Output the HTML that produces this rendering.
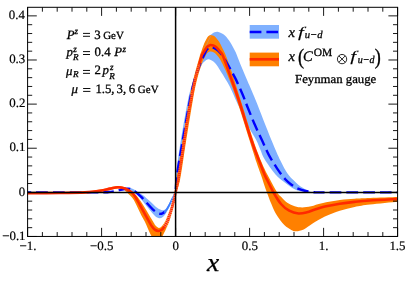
<!DOCTYPE html>
<html><head><meta charset="utf-8"><title>plot</title>
<style>
html,body{margin:0;padding:0;background:#fff;}
body{width:407px;height:289px;overflow:hidden;font-family:"Liberation Serif",serif;}
svg{display:block;}
</style></head><body>
<svg width="407" height="289" viewBox="0 0 407 289">
<defs><clipPath id="c"><rect x="27.60" y="7.30" width="370.00" height="229.15"/></clipPath></defs>
<rect width="407" height="289" fill="#fff"/>
<g clip-path="url(#c)">
<path d="M175.60 192.35 C175.63 190.79 175.67 186.39 175.80 183.00 C175.93 179.61 175.63 178.67 176.40 172.00 C177.17 165.33 178.47 155.00 180.40 143.00 C182.33 131.00 185.78 110.67 188.00 100.00 C190.22 89.33 191.82 85.67 193.70 79.00 C195.58 72.33 197.62 65.50 199.30 60.00 C200.98 54.50 202.35 49.75 203.80 46.00 C205.25 42.25 206.72 39.47 208.00 37.50 C209.28 35.53 210.42 35.07 211.50 34.20 C212.58 33.33 213.50 32.72 214.50 32.30 C215.50 31.88 216.42 31.60 217.50 31.70 C218.58 31.80 219.72 32.23 221.00 32.90 C222.28 33.57 223.63 34.12 225.20 35.70 C226.77 37.28 228.65 39.63 230.40 42.40 C232.15 45.17 234.05 48.70 235.70 52.30 C237.35 55.90 238.33 59.22 240.30 64.00 C242.27 68.78 244.95 75.00 247.50 81.00 C250.05 87.00 251.62 90.17 255.60 100.00 C259.58 109.83 267.25 129.87 271.40 140.00 C275.55 150.13 277.82 155.22 280.50 160.80 C283.18 166.38 285.23 170.17 287.50 173.50 C289.77 176.83 292.08 178.75 294.10 180.80 C296.12 182.85 297.78 184.40 299.60 185.80 C301.42 187.20 303.02 188.12 305.00 189.20 C306.98 190.28 310.42 191.78 311.50 192.30 L311.50 192.30 C310.08 192.18 305.72 192.07 303.00 191.60 C300.28 191.13 298.23 191.03 295.20 189.50 C292.17 187.97 288.08 184.92 284.80 182.40 C281.52 179.88 278.87 178.25 275.50 174.40 C272.13 170.55 267.12 163.40 264.60 159.30 C262.08 155.20 261.80 153.02 260.40 149.80 C259.00 146.58 258.27 143.97 256.20 140.00 C254.13 136.03 250.45 130.67 248.00 126.00 C245.55 121.33 243.42 116.08 241.50 112.00 C239.58 107.92 238.50 105.83 236.50 101.50 C234.50 97.17 232.07 90.93 229.50 86.00 C226.93 81.07 223.52 75.73 221.10 71.90 C218.68 68.07 217.05 65.12 215.00 63.00 C212.95 60.88 210.55 59.45 208.80 59.20 C207.05 58.95 205.77 60.37 204.50 61.50 C203.23 62.63 202.58 63.03 201.20 66.00 C199.82 68.97 197.83 73.63 196.20 79.30 C194.57 84.97 193.35 89.38 191.40 100.00 C189.45 110.62 186.47 130.33 184.50 143.00 C182.53 155.67 181.08 167.78 179.60 176.00 C178.12 184.22 176.27 189.62 175.60 192.35 Z" fill="#80b1ff"/>
<path d="M120.00 190.20 C121.33 189.80 125.83 188.00 128.00 187.80 C130.17 187.60 131.50 188.38 133.00 189.00 C134.50 189.62 135.33 190.45 137.00 191.50 C138.67 192.55 140.83 193.67 143.00 195.30 C145.17 196.93 147.83 199.35 150.00 201.30 C152.17 203.25 154.37 205.67 156.00 207.00 C157.63 208.33 158.72 208.77 159.80 209.30 C160.88 209.83 161.57 210.20 162.50 210.20 C163.43 210.20 164.43 210.17 165.40 209.30 C166.37 208.43 167.27 206.80 168.30 205.00 C169.33 203.20 170.57 200.42 171.60 198.50 C172.63 196.58 173.83 194.53 174.50 193.50 C175.17 192.47 175.42 192.54 175.60 192.35 L175.60 192.35 C175.23 193.38 174.23 196.44 173.40 198.50 C172.57 200.56 171.42 202.98 170.60 204.70 C169.78 206.42 169.37 207.20 168.50 208.80 C167.63 210.40 166.40 212.88 165.40 214.30 C164.40 215.72 163.53 216.63 162.50 217.30 C161.47 217.97 160.45 218.52 159.20 218.30 C157.95 218.08 156.53 217.33 155.00 216.00 C153.47 214.67 152.00 212.72 150.00 210.30 C148.00 207.88 145.17 204.10 143.00 201.50 C140.83 198.90 138.67 196.33 137.00 194.70 C135.33 193.07 134.50 192.55 133.00 191.70 C131.50 190.85 130.17 189.85 128.00 189.60 C125.83 189.35 121.33 190.10 120.00 190.20 Z" fill="#80b1ff"/>
<path d="M175.60 192.35 C175.77 190.29 175.52 188.22 176.60 180.00 C177.68 171.78 180.00 156.33 182.10 143.00 C184.20 129.67 187.32 110.62 189.20 100.00 C191.08 89.38 191.68 86.47 193.40 79.30 C195.12 72.13 198.15 61.72 199.50 57.00 C200.85 52.28 200.75 53.17 201.50 51.00 C202.25 48.83 203.08 46.17 204.00 44.00 C204.92 41.83 206.17 39.37 207.00 38.00 C207.83 36.63 208.38 36.30 209.00 35.80 C209.62 35.30 210.10 35.07 210.70 35.00 C211.30 34.93 211.92 35.15 212.60 35.40 C213.28 35.65 213.68 35.40 214.80 36.50 C215.92 37.60 218.05 40.08 219.30 42.00 C220.55 43.92 221.38 46.17 222.30 48.00 C223.22 49.83 224.08 51.42 224.80 53.00 C225.52 54.58 225.43 54.33 226.60 57.50 C227.77 60.67 229.43 64.83 231.80 72.00 C234.17 79.17 237.20 89.08 240.80 100.50 C244.40 111.92 249.93 130.20 253.40 140.50 C256.87 150.80 259.23 156.55 261.60 162.30 C263.97 168.05 264.98 169.95 267.60 175.00 C270.22 180.05 275.02 188.93 277.30 192.60 C279.58 196.27 279.63 195.32 281.30 197.00 C282.97 198.68 285.07 201.17 287.30 202.70 C289.53 204.23 292.22 205.42 294.70 206.20 C297.18 206.98 299.47 207.40 302.20 207.40 C304.93 207.40 307.80 206.90 311.10 206.20 C314.40 205.50 317.22 204.23 322.00 203.20 C326.78 202.17 334.37 200.75 339.80 200.00 C345.23 199.25 349.57 199.03 354.60 198.70 C359.63 198.37 362.83 198.27 370.00 198.00 C377.17 197.73 393.00 197.25 397.60 197.10 L397.60 201.80 C393.00 202.27 377.17 203.73 370.00 204.60 C362.83 205.47 359.63 205.97 354.60 207.00 C349.57 208.03 344.75 209.20 339.80 210.80 C334.85 212.40 329.43 214.48 324.90 216.60 C320.37 218.72 316.13 221.35 312.60 223.50 C309.07 225.65 306.43 228.20 303.70 229.50 C300.97 230.80 298.18 231.18 296.20 231.30 C294.22 231.42 293.78 231.25 291.80 230.20 C289.82 229.15 286.72 227.37 284.30 225.00 C281.88 222.63 279.20 218.88 277.30 216.00 C275.40 213.12 274.63 211.60 272.90 207.70 C271.17 203.80 268.88 198.05 266.90 192.60 C264.92 187.15 262.73 180.05 261.00 175.00 C259.27 169.95 258.40 168.05 256.50 162.30 C254.60 156.55 252.85 150.80 249.60 140.50 C246.35 130.20 240.68 111.43 237.00 100.50 C233.32 89.57 230.00 81.15 227.50 74.90 C225.00 68.65 223.50 65.98 222.00 63.00 C220.50 60.02 219.83 58.75 218.50 57.00 C217.17 55.25 215.42 53.42 214.00 52.50 C212.58 51.58 211.17 51.33 210.00 51.50 C208.83 51.67 207.83 52.58 207.00 53.50 C206.17 54.42 205.77 55.58 205.00 57.00 C204.23 58.42 203.72 58.28 202.40 62.00 C201.08 65.72 198.68 72.97 197.10 79.30 C195.52 85.63 194.78 89.38 192.90 100.00 C191.02 110.62 187.95 129.67 185.80 143.00 C183.65 156.33 181.70 171.78 180.00 180.00 C178.30 188.22 176.33 190.29 175.60 192.35 Z" fill="#ff8000"/>
<path d="M27.60 192.60 C33.00 192.57 50.43 192.58 60.00 192.40 C69.57 192.22 78.33 191.97 85.00 191.50 C91.67 191.03 95.83 190.28 100.00 189.60 C104.17 188.92 107.05 187.98 110.00 187.40 C112.95 186.82 115.37 186.17 117.70 186.10 C120.03 186.03 122.28 186.55 124.00 187.00 C125.72 187.45 126.50 187.88 128.00 188.80 C129.50 189.72 131.37 191.08 133.00 192.50 C134.63 193.92 136.12 195.22 137.80 197.30 C139.48 199.38 141.17 201.98 143.10 205.00 C145.03 208.02 147.72 212.60 149.40 215.40 C151.08 218.20 152.18 220.12 153.20 221.80 C154.22 223.48 154.57 224.48 155.50 225.50 C156.43 226.52 157.75 227.77 158.80 227.90 C159.85 228.03 160.78 227.32 161.80 226.30 C162.82 225.28 164.03 223.35 164.90 221.80 C165.77 220.25 166.05 219.38 167.00 217.00 C167.95 214.62 169.60 210.58 170.60 207.50 C171.60 204.42 172.17 201.03 173.00 198.50 C173.83 195.97 175.17 193.38 175.60 192.35 L175.60 192.35 C175.57 193.38 175.78 195.89 175.40 198.50 C175.02 201.11 174.33 204.12 173.30 208.00 C172.27 211.88 170.42 218.30 169.20 221.80 C167.98 225.30 167.13 226.57 166.00 229.00 C164.87 231.43 163.40 234.40 162.40 236.40 C161.40 238.40 161.07 240.23 160.00 241.00 C158.93 241.77 157.38 241.77 156.00 241.00 C154.62 240.23 152.95 238.23 151.70 236.40 C150.45 234.57 149.63 232.43 148.50 230.00 C147.37 227.57 146.08 224.23 144.90 221.80 C143.72 219.37 142.82 218.20 141.40 215.40 C139.98 212.60 137.83 207.82 136.40 205.00 C134.97 202.18 134.03 200.25 132.80 198.50 C131.57 196.75 130.13 195.67 129.00 194.50 C127.87 193.33 127.00 192.33 126.00 191.50 C125.00 190.67 124.38 189.98 123.00 189.50 C121.62 189.02 119.87 188.52 117.70 188.60 C115.53 188.68 112.95 189.43 110.00 190.00 C107.05 190.57 104.17 191.42 100.00 192.00 C95.83 192.58 91.67 193.15 85.00 193.50 C78.33 193.85 69.57 193.98 60.00 194.10 C50.43 194.22 33.00 194.18 27.60 194.20 Z" fill="#ff8000"/>
<path d="M211 35.3 L205 48" stroke="#bf987f" stroke-width="0.6" fill="none"/>
<path d="M27.60 192.35 C39.67 192.34 86.60 192.36 100.00 192.30 C113.40 192.24 105.67 192.17 108.00 192.00 C110.33 191.83 112.17 191.60 114.00 191.30 C115.83 191.00 117.42 190.55 119.00 190.20 C120.58 189.85 122.08 189.47 123.50 189.20 C124.92 188.93 126.25 188.60 127.50 188.60 C128.75 188.60 129.92 188.83 131.00 189.20 C132.08 189.57 133.13 190.28 134.00 190.80 C134.87 191.32 134.95 191.23 136.20 192.30 C137.45 193.37 139.65 195.33 141.50 197.20 C143.35 199.07 145.38 201.43 147.30 203.50 C149.22 205.57 151.38 208.08 153.00 209.60 C154.62 211.12 155.83 211.90 157.00 212.60 C158.17 213.30 159.08 213.67 160.00 213.80 C160.92 213.93 161.67 213.77 162.50 213.40 C163.33 213.03 164.58 211.90 165.00 211.60" fill="none" stroke="#0000ff" stroke-width="2.4" stroke-dasharray="11.7 5.0" stroke-dashoffset="7.98"/>
<path d="M164.30 212.60 C164.73 212.03 166.03 210.52 166.90 209.20 C167.77 207.88 168.57 206.48 169.50 204.70 C170.43 202.92 171.52 200.48 172.50 198.50 C173.48 196.52 174.92 193.75 175.40 192.80" fill="none" stroke="#3c7dff" stroke-width="1.8"/>
<path d="M175.60 192.35 C175.83 189.46 175.88 183.22 177.00 175.00 C178.12 166.78 180.13 155.50 182.30 143.00 C184.47 130.50 187.92 110.67 190.00 100.00 C192.08 89.33 193.00 85.33 194.80 79.00 C196.60 72.67 199.22 66.07 200.80 62.00 C202.38 57.93 203.35 56.60 204.30 54.60 C205.25 52.60 205.72 51.13 206.50 50.00 C207.28 48.87 208.17 48.28 209.00 47.80 C209.83 47.32 210.67 47.07 211.50 47.10 C212.33 47.13 212.92 47.42 214.00 48.00 C215.08 48.58 216.75 49.57 218.00 50.60 C219.25 51.63 220.42 52.80 221.50 54.20 C222.58 55.60 223.60 57.53 224.50 59.00 C225.40 60.47 225.13 59.85 226.90 63.00 C228.67 66.15 232.50 72.70 235.10 77.90 C237.70 83.10 240.50 89.52 242.50 94.20 C244.50 98.88 245.12 101.07 247.10 106.00 C249.08 110.93 251.92 118.10 254.40 123.80 C256.88 129.50 259.60 135.02 262.00 140.20 C264.40 145.38 266.30 150.22 268.80 154.90 C271.30 159.58 274.33 164.33 277.00 168.30 C279.67 172.27 282.38 175.97 284.80 178.70 C287.22 181.43 289.27 183.03 291.50 184.70 C293.73 186.37 295.85 187.65 298.20 188.70 C300.55 189.75 302.88 190.40 305.60 191.00 C308.32 191.60 311.48 192.08 314.50 192.30 C317.52 192.53 309.85 192.34 323.70 192.35 C337.55 192.36 385.28 192.35 397.60 192.35" fill="none" stroke="#0000ff" stroke-width="2.4" stroke-dasharray="11.7 5.0" stroke-dashoffset="13.22"/>
<path d="M27.60 193.20 C33.00 193.17 50.43 193.18 60.00 193.05 C69.57 192.92 78.33 192.78 85.00 192.40 C91.67 192.03 95.83 191.43 100.00 190.80 C104.17 190.17 107.05 189.18 110.00 188.60 C112.95 188.02 115.37 187.37 117.70 187.30 C120.03 187.23 122.28 187.75 124.00 188.20 C125.72 188.65 126.68 189.28 128.00 190.00 C129.32 190.72 130.63 191.28 131.90 192.50 C133.17 193.72 134.27 195.22 135.60 197.30 C136.93 199.38 138.23 201.98 139.90 205.00 C141.57 208.02 144.05 212.60 145.60 215.40 C147.15 218.20 148.15 219.98 149.20 221.80 C150.25 223.62 150.97 225.00 151.90 226.30 C152.83 227.60 153.68 228.82 154.80 229.60 C155.92 230.38 157.43 230.97 158.60 231.00 C159.77 231.03 160.85 230.50 161.80 229.80 C162.75 229.10 163.40 228.13 164.30 226.80 C165.20 225.47 166.42 223.43 167.20 221.80 C167.98 220.17 168.20 219.38 169.00 217.00 C169.80 214.62 171.12 210.67 172.00 207.50 C172.88 204.33 173.70 200.53 174.30 198.00 C174.90 195.47 174.95 195.35 175.60 192.35 C176.25 189.35 176.82 188.22 178.20 180.00 C179.58 171.78 182.37 153.00 183.90 143.00 C185.43 133.00 186.22 127.17 187.40 120.00 C188.58 112.83 189.70 106.78 191.00 100.00 C192.30 93.22 193.48 86.47 195.20 79.30 C196.92 72.13 200.07 61.22 201.30 57.00 C202.53 52.78 201.93 55.25 202.60 54.00 C203.27 52.75 204.48 50.73 205.30 49.50 C206.12 48.27 206.63 47.35 207.50 46.60 C208.37 45.85 209.50 45.17 210.50 45.00 C211.50 44.83 212.58 45.27 213.50 45.60 C214.42 45.93 214.92 46.02 216.00 47.00 C217.08 47.98 218.83 50.00 220.00 51.50 C221.17 53.00 221.35 52.10 223.00 56.00 C224.65 59.90 227.25 67.48 229.90 74.90 C232.55 82.32 235.30 89.57 238.90 100.50 C242.50 111.43 248.03 130.20 251.50 140.50 C254.97 150.80 257.50 156.55 259.70 162.30 C261.90 168.05 263.43 172.02 264.70 175.00 C265.97 177.98 265.82 177.27 267.30 180.20 C268.78 183.13 271.32 188.63 273.60 192.60 C275.88 196.57 278.40 200.98 281.00 204.00 C283.60 207.02 286.28 209.12 289.20 210.70 C292.12 212.28 295.53 213.23 298.50 213.50 C301.47 213.77 304.25 212.97 307.00 212.30 C309.75 211.63 312.02 210.45 315.00 209.50 C317.98 208.55 320.77 207.55 324.90 206.60 C329.03 205.65 334.85 204.58 339.80 203.80 C344.75 203.02 349.57 202.45 354.60 201.90 C359.63 201.35 362.83 200.98 370.00 200.50 C377.17 200.02 393.00 199.25 397.60 199.00" fill="none" stroke="#ff2a00" stroke-width="2.6" stroke-linejoin="round"/>
<path d="M164.60 226.40 C165.03 225.63 166.47 223.37 167.20 221.80 C167.93 220.23 168.20 219.38 169.00 217.00 C169.80 214.62 171.12 210.67 172.00 207.50 C172.88 204.33 173.73 200.38 174.30 198.00 C174.87 195.62 175.22 194.00 175.40 193.20" fill="none" stroke="#fff" stroke-opacity="0.5" stroke-width="5" stroke-dasharray="0.7 1.2"/>
<path d="M175.80 191.50 C176.20 189.58 176.85 188.08 178.20 180.00 C179.55 171.92 182.37 153.00 183.90 143.00 C185.43 133.00 186.22 127.17 187.40 120.00 C188.58 112.83 189.70 106.78 191.00 100.00 C192.30 93.22 193.82 85.30 195.20 79.30 C196.58 73.30 198.62 66.55 199.30 64.00" fill="none" stroke="#ffb060" stroke-opacity="0.55" stroke-width="2.8" stroke-dasharray="0.8 1.1"/>
</g>
<path d="M27.60 192.55 H397.60 M175.60 7.30 V236.45" stroke="#000" stroke-width="1.5" fill="none"/>
<rect x="27.60" y="7.30" width="370.00" height="229.15" fill="none" stroke="#000" stroke-width="1"/>
<path d="M27.60 236.45 V227.85 M27.60 7.30 V15.90 M42.40 236.45 V232.05 M42.40 7.30 V11.70 M57.20 236.45 V232.05 M57.20 7.30 V11.70 M72.00 236.45 V232.05 M72.00 7.30 V11.70 M86.80 236.45 V232.05 M86.80 7.30 V11.70 M101.60 236.45 V227.85 M101.60 7.30 V15.90 M116.40 236.45 V232.05 M116.40 7.30 V11.70 M131.20 236.45 V232.05 M131.20 7.30 V11.70 M146.00 236.45 V232.05 M146.00 7.30 V11.70 M160.80 236.45 V232.05 M160.80 7.30 V11.70 M175.60 236.45 V227.85 M175.60 7.30 V15.90 M190.40 236.45 V232.05 M190.40 7.30 V11.70 M205.20 236.45 V232.05 M205.20 7.30 V11.70 M220.00 236.45 V232.05 M220.00 7.30 V11.70 M234.80 236.45 V232.05 M234.80 7.30 V11.70 M249.60 236.45 V227.85 M249.60 7.30 V15.90 M264.40 236.45 V232.05 M264.40 7.30 V11.70 M279.20 236.45 V232.05 M279.20 7.30 V11.70 M294.00 236.45 V232.05 M294.00 7.30 V11.70 M308.80 236.45 V232.05 M308.80 7.30 V11.70 M323.60 236.45 V227.85 M323.60 7.30 V15.90 M338.40 236.45 V232.05 M338.40 7.30 V11.70 M353.20 236.45 V232.05 M353.20 7.30 V11.70 M368.00 236.45 V232.05 M368.00 7.30 V11.70 M382.80 236.45 V232.05 M382.80 7.30 V11.70 M397.60 236.45 V227.85 M397.60 7.30 V15.90 M27.60 236.47 H36.80 M397.60 236.47 H388.40 M27.60 227.65 H32.20 M397.60 227.65 H393.00 M27.60 218.82 H32.20 M397.60 218.82 H393.00 M27.60 210.00 H32.20 M397.60 210.00 H393.00 M27.60 201.17 H32.20 M397.60 201.17 H393.00 M27.60 192.35 H36.80 M397.60 192.35 H388.40 M27.60 183.53 H32.20 M397.60 183.53 H393.00 M27.60 174.70 H32.20 M397.60 174.70 H393.00 M27.60 165.88 H32.20 M397.60 165.88 H393.00 M27.60 157.05 H32.20 M397.60 157.05 H393.00 M27.60 148.23 H36.80 M397.60 148.23 H388.40 M27.60 139.41 H32.20 M397.60 139.41 H393.00 M27.60 130.58 H32.20 M397.60 130.58 H393.00 M27.60 121.76 H32.20 M397.60 121.76 H393.00 M27.60 112.93 H32.20 M397.60 112.93 H393.00 M27.60 104.11 H36.80 M397.60 104.11 H388.40 M27.60 95.29 H32.20 M397.60 95.29 H393.00 M27.60 86.46 H32.20 M397.60 86.46 H393.00 M27.60 77.64 H32.20 M397.60 77.64 H393.00 M27.60 68.81 H32.20 M397.60 68.81 H393.00 M27.60 59.99 H36.80 M397.60 59.99 H388.40 M27.60 51.17 H32.20 M397.60 51.17 H393.00 M27.60 42.34 H32.20 M397.60 42.34 H393.00 M27.60 33.52 H32.20 M397.60 33.52 H393.00 M27.60 24.69 H32.20 M397.60 24.69 H393.00 M27.60 15.87 H36.80 M397.60 15.87 H388.40" stroke="#000" stroke-width="0.9" fill="none"/>
<rect x="249.7" y="25.0" width="29.3" height="13.7" fill="#80b1ff"/>
<path d="M249.7 32.05 H279.0" stroke="#0000ff" stroke-width="2.5" stroke-dasharray="11.7 5.0"/>
<rect x="249.7" y="52.6" width="29.3" height="13.7" fill="#ff8000"/>
<path d="M249.7 59.3 H279.0" stroke="#ff2a00" stroke-width="2.7"/>
<g font-family="Liberation Serif, serif" fill="#000" stroke="#000" stroke-width="0.3" style="filter:grayscale(1);text-rendering:geometricPrecision">
<text x="8.86" y="19.07" font-size="12.90" stroke-width="0.20">0.4</text>
<text x="9.18" y="63.19" font-size="12.90" stroke-width="0.20">0.3</text>
<text x="9.36" y="107.31" font-size="12.90" stroke-width="0.20">0.2</text>
<text x="9.43" y="151.43" font-size="12.90" stroke-width="0.20">0.1</text>
<text x="18.86" y="195.55" font-size="12.90" stroke-width="0.20">0</text>
<text x="2.18" y="239.67" font-size="12.90" stroke-width="0.20">−0.1</text>
<text x="19.46" y="249.55" font-size="12.90" stroke-width="0.20">−1.</text>
<text x="90.05" y="249.55" font-size="12.90" stroke-width="0.20">−0.5</text>
<text x="172.58" y="249.55" font-size="12.90" stroke-width="0.20">0</text>
<text x="241.74" y="249.55" font-size="12.90" stroke-width="0.20">0.5</text>
<text x="318.83" y="249.55" font-size="12.90" stroke-width="0.20">1.</text>
<text x="389.43" y="249.55" font-size="12.90" stroke-width="0.20">1.5</text>
<text transform="translate(206.93 270.90) scale(1.0610 1)" font-size="26.00" font-style="italic" stroke-width="0.28">x</text>
<text x="66.86" y="38.70" font-size="12.80" font-style="italic">P</text>
<text x="74.62" y="33.80" font-size="9.10" font-style="italic">z</text>
<path d="M83.00 33.40 H90.00 M83.00 36.30 H90.00" stroke="#000" stroke-width="0.95" fill="none"/>
<text x="94.17" y="38.70" font-size="12.80">3</text>
<text transform="translate(103.16 38.70) scale(0.9957 1)" font-size="11.00" stroke-width="0.30">GeV</text>
<text x="66.45" y="56.20" font-size="12.80" font-style="italic">p</text>
<text x="73.17" y="51.60" font-size="9.10" font-style="italic">z</text>
<text x="73.11" y="60.40" font-size="9.10" font-style="italic">R</text>
<path d="M83.00 51.60 H90.00 M83.00 54.50 H90.00" stroke="#000" stroke-width="0.95" fill="none"/>
<text x="94.60" y="56.20" font-size="12.80">0.4</text>
<text x="114.16" y="56.20" font-size="12.80" font-style="italic">P</text>
<text x="122.62" y="51.60" font-size="9.10" font-style="italic">z</text>
<text x="65.90" y="74.80" font-size="12.80" font-style="italic">μ</text>
<text x="73.11" y="77.10" font-size="9.10" font-style="italic">R</text>
<path d="M83.00 70.45 H90.00 M83.00 73.35 H90.00" stroke="#000" stroke-width="0.95" fill="none"/>
<text x="94.44" y="74.40" font-size="12.80">2</text>
<text x="102.55" y="74.40" font-size="12.80" font-style="italic">p</text>
<text x="110.12" y="69.60" font-size="9.10" font-style="italic">z</text>
<text x="109.36" y="79.30" font-size="9.10" font-style="italic">R</text>
<text x="71.50" y="93.40" font-size="12.80" font-style="italic">μ</text>
<path d="M83.10 88.50 H90.40 M83.10 91.40 H90.40" stroke="#000" stroke-width="0.95" fill="none"/>
<text x="95.38" y="93.40" font-size="12.80">1.5,</text>
<text x="116.58" y="93.40" font-size="12.80">3,</text>
<text x="128.84" y="93.40" font-size="12.80">6</text>
<text transform="translate(137.86 93.40) scale(0.9957 1)" font-size="11.00" stroke-width="0.30">GeV</text>
<text x="288.59" y="36.60" font-size="14.60" font-style="italic">x</text>
<text transform="translate(298.03 36.60) scale(1.4382 1)" font-size="14.60" font-style="italic" stroke-width="0.10">f</text>
<text transform="translate(304.79 38.10) scale(1.0139 1)" font-size="10.50" font-style="italic" stroke-width="0.30">u−d</text>
<text x="288.59" y="61.40" font-size="14.60" font-style="italic">x</text>
<text transform="translate(297.93 64.10) scale(0.8264 1)" font-size="22.00" stroke-width="0.36">(</text>
<text x="303.09" y="61.40" font-size="14.60" font-style="italic">C</text>
<text transform="translate(313.75 55.80) scale(1.0261 1)" font-size="11.20" stroke-width="0.29">OM</text>
<g fill="none" stroke="#000" stroke-width="0.85"><circle cx="342.05" cy="59.1" r="4.65"/><path d="M338.76 55.81 L345.34 62.39 M345.34 55.81 L338.76 62.39"/></g>
<text transform="translate(350.33 61.40) scale(1.4382 1)" font-size="14.60" font-style="italic" stroke-width="0.10">f</text>
<text transform="translate(357.72 63.20) scale(0.9553 1)" font-size="10.50" font-style="italic" stroke-width="0.31">u−d</text>
<text transform="translate(374.73 64.10) scale(0.8264 1)" font-size="22.00" stroke-width="0.36">)</text>
<text transform="translate(295.11 83.40) scale(1.0463 1)" font-size="12.20" stroke-width="0.29">Feynman gauge</text>
</g>
</svg>
</body></html>
